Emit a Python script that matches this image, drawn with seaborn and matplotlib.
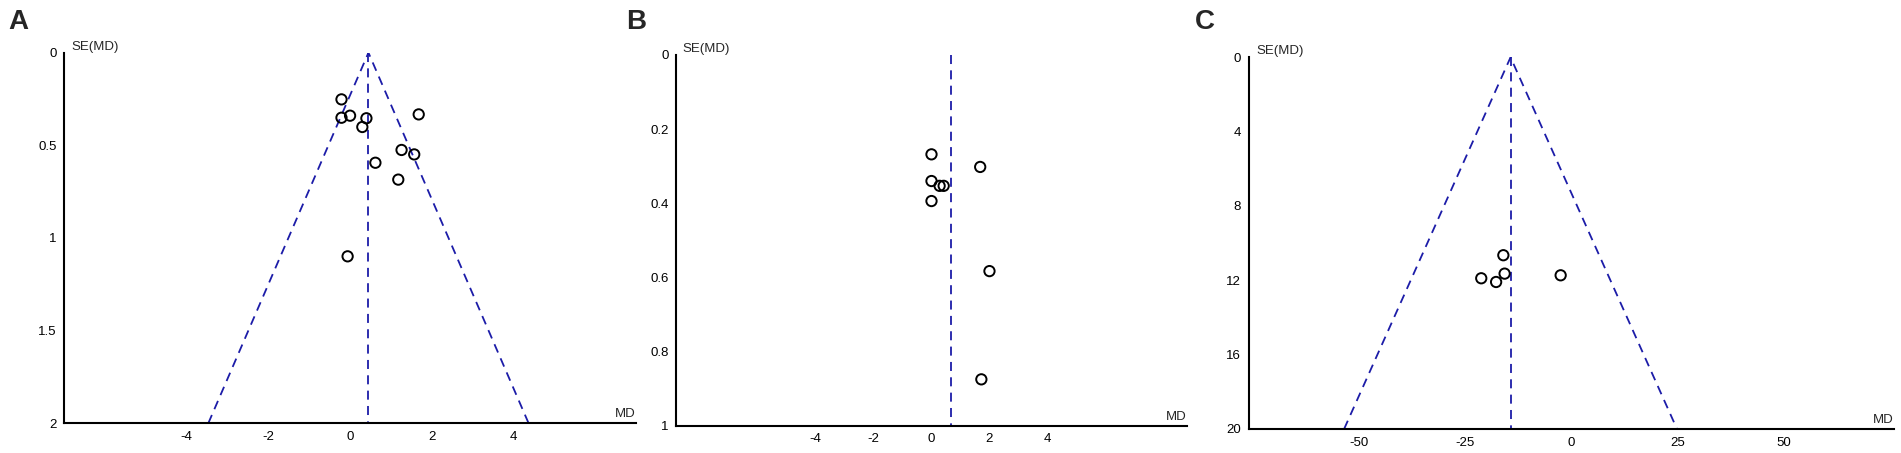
import numpy as np
import pandas as pd
import matplotlib
matplotlib.use("Agg")
import matplotlib.pyplot as plt
import seaborn as sns

# ------------------------------------------------------------
# Data
# ------------------------------------------------------------
md_a = [-0.21, -0.21, 0.00, 0.40, 0.30, 1.68, 1.26, 1.57, 0.62, 1.18, -0.06]
se_a = [0.252, 0.351, 0.340, 0.354, 0.401, 0.333, 0.525, 0.549, 0.594, 0.685, 1.099]
pooled_a = 0.45

md_b = [0.00, 1.68, 0.00, 0.28, 0.42, 0.00, 2.00, 1.72]
se_b = [0.268, 0.302, 0.340, 0.353, 0.353, 0.394, 0.583, 0.875]
pooled_b = 0.68

md_c = [-16.0, -15.7, -21.2, -17.7, -2.5]
se_c = [10.65, 11.64, 11.89, 12.09, 11.73]
pooled_c = -14.3

panels = [
    dict(label="A", md=md_a, se=se_a, pooled=pooled_a, se_max=2, xlim=(-7, 7),
         xticks=[-4, -2, 0, 2, 4], yticks=[0, 0.5, 1, 1.5, 2],
         yticklabels=["0", "0.5", "1", "1.5", "2"], funnel=True,
         rect=[0.0337, 0.0656, 0.3009, 0.8181], lx=0.0042),
    dict(label="B", md=md_b, se=se_b, pooled=pooled_b, se_max=1, xlim=(-8.8, 8.8),
         xticks=[-4, -2, 0, 2, 4], yticks=[0, 0.2, 0.4, 0.6, 0.8, 1],
         yticklabels=["0", "0.2", "0.4", "0.6", "0.8", "1"], funnel=False,
         rect=[0.3558, 0.0603, 0.2684, 0.8183], lx=0.3293),
    dict(label="C", md=md_c, se=se_c, pooled=pooled_c, se_max=20, xlim=(-76, 76),
         xticks=[-50, -25, 0, 25, 50], yticks=[0, 4, 8, 12, 16, 20],
         yticklabels=["0", "4", "8", "12", "16", "20"], funnel=True,
         rect=[0.6568, 0.0530, 0.3395, 0.8205], lx=0.6286),
]

sns.set_style("white")
plt.rcParams["font.family"] = ["Liberation Sans Narrow", "Liberation Sans", "DejaVu Sans"]

fig = plt.figure(figsize=(19.01, 4.53), dpi=100)
line_color = "#1c1ca8"

for p in panels:
    ax = fig.add_axes(p["rect"])
    df = pd.DataFrame({"MD": p["md"], "SE": p["se"]})

    # funnel lines (pseudo 95% CI) and pooled estimate
    top = p["se_max"]
    if p["funnel"]:
        ax.plot([p["pooled"] - 1.96 * top, p["pooled"], p["pooled"] + 1.96 * top],
                [top, 0, top], ls=(0, (5, 3.5)), color=line_color, lw=1.3, zorder=1)
    ax.plot([p["pooled"], p["pooled"]], [0, top], ls=(0, (5, 3.5)),
            color=line_color, lw=1.3, zorder=1)

    sns.scatterplot(data=df, x="MD", y="SE", ax=ax, marker="o", s=55,
                    facecolor="none", edgecolor="black", linewidth=1.4, zorder=3)

    ax.set_xlim(*p["xlim"])
    ax.set_ylim(top, 0)
    ax.set_xticks(p["xticks"])
    ax.set_xticklabels([str(t) for t in p["xticks"]])
    ax.set_yticks(p["yticks"])
    ax.set_yticklabels(p["yticklabels"])
    ax.set_xlabel("")
    ax.set_ylabel("")

    for side in ["top", "right"]:
        ax.spines[side].set_visible(False)
    for side in ["left", "bottom"]:
        ax.spines[side].set_color("black")
        ax.spines[side].set_linewidth(1.5)
    ax.tick_params(axis="both", direction="inout", length=7, width=1.3,
                   colors="black", labelsize=9.5, pad=2)

    ax.text(0.012, 1.0, "SE(MD)", transform=ax.transAxes, fontsize=9.5,
            ha="left", va="bottom")
    ax.text(1.0, 0.008, "MD", transform=ax.transAxes, fontsize=9.5,
            ha="right", va="bottom")

    fig.text(p["lx"], 0.951, p["label"], fontsize=20, fontweight="bold",
             family=["Liberation Sans", "DejaVu Sans"], ha="left", va="center")

fig.savefig("out.png", dpi=100, facecolor="white")
